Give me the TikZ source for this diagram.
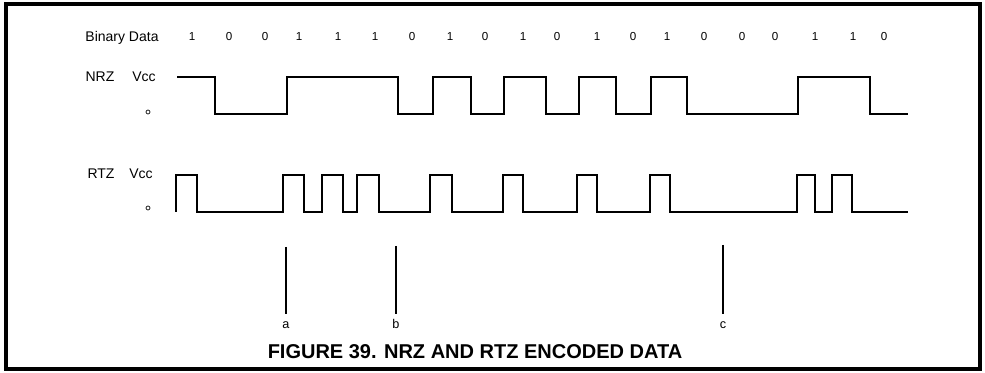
\documentclass[tikz,border=0pt]{standalone}
\usepackage{fontspec}
\setmainfont{Liberation Sans}

\begin{document}
\begin{tikzpicture}[
    x=0.75pt, y=-0.75pt,
    lbl/.style     ={font=\fontsize{10.5}{12}\selectfont, inner sep=0pt, anchor=base},
    bit/.style     ={font=\fontsize{8.7}{10}\selectfont, inner sep=0pt, anchor=base},
    zero/.style    ={draw, circle, line width=0.5pt, minimum size=3pt, inner sep=0pt},
    wave/.style    ={line width=1.9pt},
    markline/.style={line width=1.4pt, shorten >=3pt},
    marklbl/.style ={font=\fontsize{9.5}{11}\selectfont, inner sep=0pt, anchor=base,
                     text height=1.5ex},
    frame/.style   ={line width=3pt},
    title/.style   ={font=\fontsize{15}{17}\selectfont\bfseries, inner sep=0pt, anchor=base}
]
\useasboundingbox (0,0) rectangle (985,373);

%% ── Outer frame ──────────────────────────────────────────────────
\draw[frame] (6,4) rectangle (980,369);

%% ── Binary data row ──────────────────────────────────────────────
\node[lbl] (data) at (122,42) {Binary Data};
\foreach \x/\b [count=\i] in {192/1, 229/0, 265/0, 299/1, 338/1, 375/1, 412/0,
        450/1, 485/0, 523/1, 557/0, 597/1, 633/0, 667/1, 704/0, 742/0,
        775/0, 815/1, 853/1, 884/0}
    \node[bit] (bit\i) at (\x,41) {\b};

%% ── NRZ ──────────────────────────────────────────────────────────
\node[lbl] (nrz)    at (100,82) {NRZ};
\node[lbl] (nrzvcc) at (144,82) {Vcc};
\node[zero] (nrz0)  at (148,112) {};
\draw[wave] (177,77) -- (215,77) -- (215,114) -- (287,114) -- (287,77)
    -- (398,77) -- (398,114) -- (433,114) -- (433,77) -- (471,77)
    -- (471,114) -- (504,114) -- (504,77) -- (546,77) -- (546,114)
    -- (579,114) -- (579,77) -- (616,77) -- (616,114) -- (651,114)
    -- (651,77) -- (687,77) -- (687,114) -- (798,114) -- (798,77)
    -- (870,77) -- (870,114) -- (908,114);

%% ── RTZ ──────────────────────────────────────────────────────────
\node[lbl] (rtz)    at (101,179) {RTZ};
\node[lbl] (rtzvcc) at (141,179) {Vcc};
\node[zero] (rtz0)  at (148,208) {};
\draw[wave] (176,212) -- (176,175) -- (197,175) -- (197,212)
    -- (283,212) -- (283,175) -- (304,175) -- (304,212)
    -- (322,212) -- (322,175) -- (343,175) -- (343,212)
    -- (357,212) -- (357,175) -- (379,175) -- (379,212)
    -- (430,212) -- (430,175) -- (452,175) -- (452,212)
    -- (503,212) -- (503,175) -- (523,175) -- (523,212)
    -- (577,212) -- (577,175) -- (597,175) -- (597,212)
    -- (650,212) -- (650,175) -- (670,175) -- (670,212)
    -- (797,212) -- (797,175) -- (815,175) -- (815,212)
    -- (832,212) -- (832,175) -- (852,175) -- (852,212)
    -- (908,212);

%% ── Markers a, b, c ──────────────────────────────────────────────
\node[marklbl] (marka) at (286,329) {a};
\node[marklbl] (markb) at (396,329) {b};
\node[marklbl] (markc) at (723,329) {c};
\coordinate (atop) at (286,247);
\coordinate (btop) at (396,246);
\coordinate (ctop) at (723,245);
\draw[markline] (atop) -- (marka.north);
\draw[markline] (btop) -- (markb.north);
\draw[markline] (ctop) -- (markc.north);

%% ── Caption ──────────────────────────────────────────────────────
\node[title] (caption) at (475,359) {FIGURE 39. NRZ AND RTZ ENCODED DATA};

\end{tikzpicture}
\end{document}
